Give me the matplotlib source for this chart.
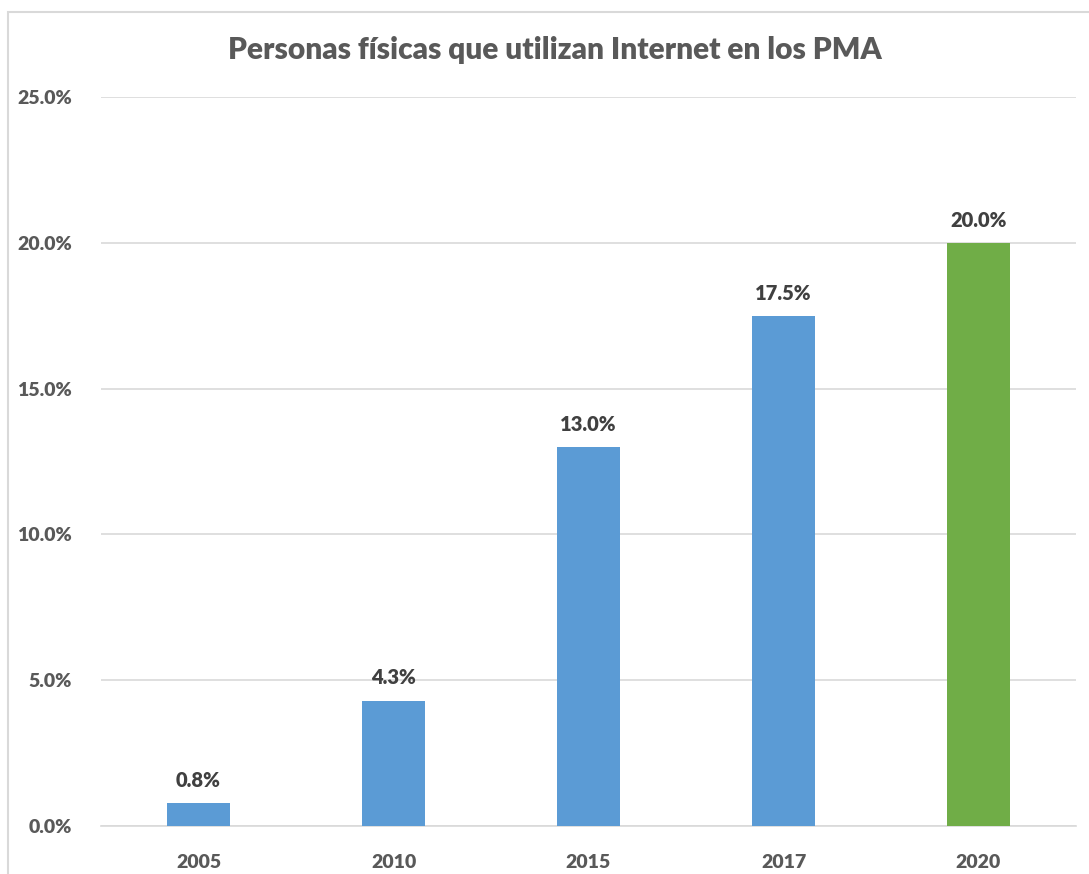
import matplotlib.pyplot as plt
from matplotlib.patches import Rectangle
from matplotlib.ticker import FuncFormatter, MultipleLocator

# ..............................................................................
years = ["2005", "2010", "2015", "2017", "2020"]
values = [0.8, 4.3, 13.0, 17.5, 20.0]
colors = ["#5B9BD5", "#5B9BD5", "#5B9BD5", "#5B9BD5", "#70AD47"]

title = "Personas físicas que utilizan Internet en los PMA"

# ..............................................................................
plt.rcParams["font.family"] = ["Lato", "DejaVu Sans"]
wt = "heavy"

fig = plt.figure(figsize=(10.89, 8.74), dpi=100)
ax = fig.add_axes([101/1089, 1-826/874, 975/1089, (826-97)/874])

# chart border like the spreadsheet frame
fig.patches.append(Rectangle((8/1089, -0.1), 1.2, 1-12/874+0.1,
                             transform=fig.transFigure, fill=False,
                             edgecolor="#D9D9D9", linewidth=1.5))

x = range(len(years))
bars = ax.bar(x, values, width=0.32, color=colors, zorder=3)

for b, v in zip(bars, values):
    ax.text(b.get_x()+b.get_width()/2, v+0.45, "%.1f%%" % v,
            ha="center", va="bottom", fontsize=14.5, fontweight=wt,
            color="#404040")

ax.set_xlim(-0.5, len(years)-0.5)
ax.set_ylim(0, 25)
ax.yaxis.set_major_locator(MultipleLocator(5))
ax.yaxis.set_major_formatter(FuncFormatter(lambda v, p: "%.1f%%" % v))
ax.set_xticks(list(x))
ax.set_xticklabels(years)

ax.grid(axis="y", color="#D9D9D9", linewidth=1.2, zorder=0)
for s in ["top", "right", "left"]:
    ax.spines[s].set_visible(False)
ax.spines["bottom"].set_color("#D9D9D9")
ax.spines["bottom"].set_linewidth(1.2)
ax.tick_params(axis="both", length=0, labelsize=14, labelcolor="#595959")
ax.tick_params(axis="y", pad=21)
ax.tick_params(axis="x", pad=20)
for lab in ax.get_xticklabels() + ax.get_yticklabels():
    lab.set_fontweight(wt)

fig.text(555/1089, 1-50/874, title, ha="center", va="center",
         fontsize=21.5, fontweight=wt, color="#595959")

fig.savefig("out.png", dpi=100, facecolor="white")
